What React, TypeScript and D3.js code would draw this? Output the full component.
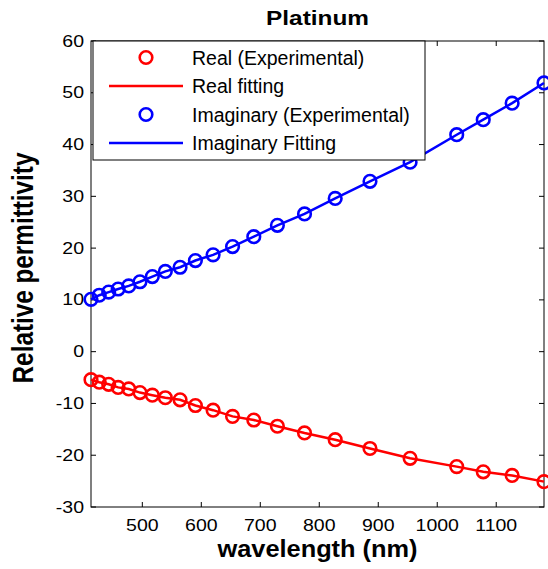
import React, { useEffect, useRef } from 'react';
import * as d3 from 'd3';

// wavelengths (nm) of the measured points
const wavelengths = [413, 427, 443, 459, 477, 496, 517, 539, 564, 590, 620, 653, 689, 729, 775, 827, 886, 954, 1033, 1078, 1127, 1181];
// real part of permittivity
const realValues = [-5.4, -5.9, -6.3, -6.9, -7.2, -7.9, -8.4, -8.9, -9.3, -10.4, -11.3, -12.5, -13.2, -14.4, -15.7, -17.0, -18.7, -20.6, -22.2, -23.2, -23.9, -25.1];
// imaginary part of permittivity
const imagValues = [10.1, 10.9, 11.5, 12.1, 12.7, 13.5, 14.5, 15.5, 16.3, 17.6, 18.7, 20.3, 22.2, 24.4, 26.6, 29.6, 32.9, 36.6, 41.9, 44.8, 48.0, 51.9];

const xTicks = [500, 600, 700, 800, 900, 1000, 1100];
const yTicks = [-30, -20, -10, 0, 10, 20, 30, 40, 50, 60];

const legendItems = [
  { label: 'Real (Experimental)', color: '#ff0000', kind: 'marker' },
  { label: 'Real fitting', color: '#ff0000', kind: 'line' },
  { label: 'Imaginary (Experimental)', color: '#0000ff', kind: 'marker' },
  { label: 'Imaginary Fitting', color: '#0000ff', kind: 'line' },
];

const W = 548, H = 569;
const margin = { top: 41, right: 4, bottom: 62, left: 91 };
const FONT = 'Arial, "Liberation Sans", Helvetica, sans-serif';

// text that is a bit wider than tall, like the exported figure
function label(parent: any, x: number, y: number, str: string, size: number, sx: number, anchor = 'start', bold = false, rotate = 0) {
  return parent.append('text')
    .attr('transform', `translate(${x},${y}) scale(${sx},1)${rotate ? ` rotate(${rotate})` : ''}`)
    .attr('text-anchor', anchor)
    .attr('font-size', size)
    .attr('font-weight', bold ? 'bold' : 'normal')
    .attr('font-family', FONT)
    .text(str);
}

export default function App() {
  const root = useRef<SVGSVGElement>(null);

  useEffect(() => {
    const svg = d3.select(root.current);
    svg.selectAll('*').remove();

    const innerW = W - margin.left - margin.right;
    const innerH = H - margin.top - margin.bottom;

    const x = d3.scaleLinear().domain([413, 1181]).range([0, innerW]);
    const y = d3.scaleLinear().domain([-30, 60]).range([innerH, 0]);

    const g = svg.append('g').attr('transform', `translate(${margin.left},${margin.top})`);

    // plot frame
    g.append('rect')
      .attr('width', innerW).attr('height', innerH)
      .attr('fill', 'white').attr('stroke', 'black').attr('stroke-width', 1);

    // inward ticks on all four sides
    const tl = 5;
    xTicks.forEach((t) => {
      g.append('line').attr('x1', x(t)).attr('x2', x(t)).attr('y1', innerH).attr('y2', innerH - tl).attr('stroke', 'black');
      g.append('line').attr('x1', x(t)).attr('x2', x(t)).attr('y1', 0).attr('y2', tl).attr('stroke', 'black');
      label(g, x(t), innerH + 24, String(t), 16, 1.22, 'middle');
    });
    yTicks.forEach((t) => {
      g.append('line').attr('x1', 0).attr('x2', tl).attr('y1', y(t)).attr('y2', y(t)).attr('stroke', 'black');
      g.append('line').attr('x1', innerW).attr('x2', innerW - tl).attr('y1', y(t)).attr('y2', y(t)).attr('stroke', 'black');
      label(g, -7, y(t) + 5.5, String(t), 16, 1.22, 'end');
    });

    const line = d3.line<number>()
      .x((_, i) => x(wavelengths[i]))
      .y((d) => y(d));

    const series = [
      { values: realValues, color: '#ff0000' },
      { values: imagValues, color: '#0000ff' },
    ];

    series.forEach((s) => {
      g.append('path')
        .attr('d', line(s.values))
        .attr('fill', 'none').attr('stroke', s.color).attr('stroke-width', 2.5);
      g.selectAll(null)
        .data(s.values)
        .enter().append('circle')
        .attr('cx', (_, i) => x(wavelengths[i]))
        .attr('cy', (d) => y(d))
        .attr('r', 6.3)
        .attr('fill', 'none').attr('stroke', s.color).attr('stroke-width', 2.6);
    });

    // legend
    const lg = g.append('g').attr('transform', 'translate(2,0)');
    lg.append('rect').attr('width', 332).attr('height', 119)
      .attr('fill', 'white').attr('stroke', 'black').attr('stroke-width', 1);
    legendItems.forEach((item, i) => {
      const cy = 16.5 + i * 28.5;
      if (item.kind === 'marker') {
        lg.append('circle').attr('cx', 53).attr('cy', cy).attr('r', 6.3)
          .attr('fill', 'none').attr('stroke', item.color).attr('stroke-width', 2.6);
      } else {
        lg.append('line').attr('x1', 16).attr('x2', 90).attr('y1', cy).attr('y2', cy)
          .attr('stroke', item.color).attr('stroke-width', 2.5);
      }
      label(lg, 99, cy + 7, item.label, 19.5, 1, 'start');
    });

    // title and axis labels
    label(svg, margin.left + innerW / 2, 25, 'Platinum', 21, 1.16, 'middle', true);
    label(svg, margin.left + innerW / 2, 557, 'wavelength (nm)', 23.5, 1.08, 'middle', true);
    label(svg, 33, margin.top + innerH / 2 - 6, 'Relative permittivity', 24.3, 1.2, 'middle', true, -90);
  }, []);

  return (
    <svg ref={root} width={W} height={H}
      style={{ position: 'absolute', left: 0, top: 0, background: 'white' }} />
  );
}
